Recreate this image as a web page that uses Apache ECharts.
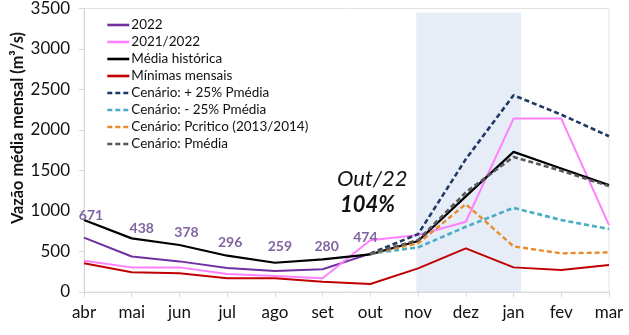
<!DOCTYPE html>
<html>
<head>
<meta charset="utf-8">
<script src="https://cdn.jsdelivr.net/npm/echarts@6/dist/echarts.min.js"></script>
<style>html,body{margin:0;padding:0;background:#fff}#c{width:629px;height:335px}</style>
</head>
<body>
<div id="c"></div>
<script>
const months = ['abr','mai','jun','jul','ago','set','out','nov','dez','jan','fev','mar'];
const yTicks = [0,500,1000,1500,2000,2500,3000,3500];
const s2022 = [671,438,378,296,259,280,474,null,null,null,null,null];
const s2021_2022 = [386,304,304,222,197,169,640,703,867,2141,2141,826];
const mediaHistorica = [890,662,580,448,361,403,465,629,1180,1730,1525,1319];
const minimasMensais = [354,243,231,169,169,127,99,292,539,304,271,333];
const cenMais25 = [null,null,null,null,null,null,474,715,1640,2429,2190,1923];
const cenMenos25 = [null,null,null,null,null,null,474,551,805,1040,888,777];
const cenPcritico = [null,null,null,null,null,null,474,600,1085,563,477,489];
const cenPmedia = [null,null,null,null,null,null,474,641,1230,1668,1496,1307];
const seriesNames = ['2022','2021/2022','Média histórica','Mínimas mensais','Cenário: + 25% Pmédia','Cenário: - 25% Pmédia','Cenário: Pcritico (2013/2014)','Cenário: Pmédia'];
const yTitle = 'Vazão média mensal (m³/s)';
const labelOffsets = [[7,-22],[10,-28],[7,-29],[3,-26],[5,-25],[4,-23],[-5,-16]];
const bandRange = [6.96, 9.16];

const chart = echarts.init(document.getElementById('c'), null, {renderer:'canvas'});
const F = 'Lato, "Open Sans", sans-serif';
function line(name, data, color, dashed, width, z) {
  return {
    name, type:'line', data, symbol:'none', z: z||2,
    lineStyle:{color, width, type: dashed ? [5,3] : 'solid'},
    itemStyle:{color}, connectNulls:false, animation:false
  };
}
const purple = line(seriesNames[0], s2022.map((v,i)=>v==null?null:{value:v,label:{offset:labelOffsets[i]}}), '#7030a0', false, 2);
purple.symbol = 'circle'; purple.symbolSize = 0; purple.showSymbol = true;
purple.label = {show:true, position:'inside', color:'#8064a2', fontWeight:'bold', fontSize:14, fontFamily:F};

const option = {
  animation:false,
  backgroundColor:'#fff',
  grid:{left:84, right:20, top:8, bottom:43, show:true, borderColor:'#e3e3e3', borderWidth:1, backgroundColor:'transparent'},
  legend:{
    orient:'vertical', left:101, top:13, itemGap:3, itemWidth:22, itemHeight:14,
    data:seriesNames, textStyle:{fontSize:13.5, fontFamily:F, color:'#111', padding:[0,0,0,-3]},
    itemStyle:{opacity:0}, lineStyle:{width:2.6},
    selectedMode:false
  },
  xAxis:[{
    type:'category', data:months, boundaryGap:false,
    axisLine:{lineStyle:{color:'#d9d9d9'}},
    axisTick:{show:true, length:5, lineStyle:{color:'#d9d9d9'}},
    axisLabel:{fontSize:17, fontFamily:F, color:'#111', margin:12}
  },{
    type:'value', min:0, max:11, show:false
  }],
  yAxis:{
    type:'value', min:yTicks[0], max:yTicks[yTicks.length-1], interval:500,
    axisLine:{show:true, lineStyle:{color:'#d9d9d9'}},
    axisTick:{show:true, length:5, lineStyle:{color:'#d9d9d9'}},
    splitLine:{show:false},
    axisLabel:{fontSize:17, fontFamily:F, color:'#111', margin:14, formatter:(v)=>String(v)}
  },
  graphic:[
    {type:'text', x:18, y:128, rotation:Math.PI/2,
      style:{text:yTitle, font:'bold 16.3px '+F, fill:'#111', align:'center', verticalAlign:'middle'}},
    {type:'text', left:337, top:168, style:{text:'Out/22', font:'italic 22px '+F, fill:'#111'}},
    {type:'text', left:340, top:194, style:{text:'104%', font:'italic bold 22px '+F, fill:'#111'}}
  ],
  series:[
    purple,
    line(seriesNames[1], s2021_2022, '#ff80ff', false, 2),
    line(seriesNames[2], mediaHistorica, '#000000', false, 2.2),
    line(seriesNames[3], minimasMensais, '#c00000', false, 2),
    line(seriesNames[4], cenMais25, '#1f3864', true, 2.6),
    line(seriesNames[5], cenMenos25, '#4bacc6', true, 2.6),
    line(seriesNames[6], cenPcritico, '#e98a2a', true, 2.4),
    line(seriesNames[7], cenPmedia, '#595959', true, 2.6),
    {
      type:'line', xAxisIndex:1, data:[], z:10, silent:true,
      markArea:{silent:true, itemStyle:{color:'rgba(188,208,235,0.38)'},
        data:[[{xAxis:bandRange[0], yAxis:0},{xAxis:bandRange[1], yAxis:3450}]]}
    }
  ]
};
chart.setOption(option);
</script>
</body>
</html>
